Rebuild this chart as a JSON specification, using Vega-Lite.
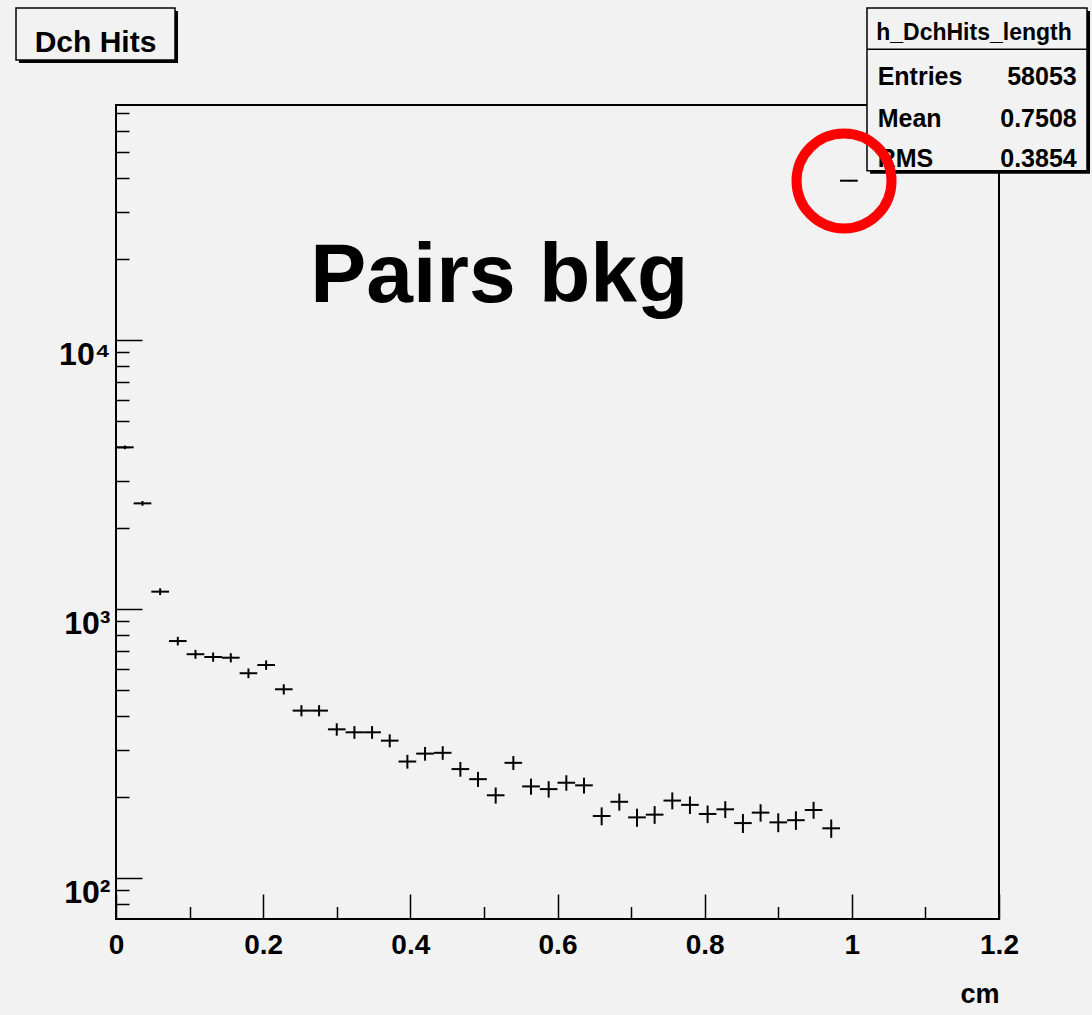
{
  "$schema": "https://vega.github.io/schema/vega-lite/v6.json",
  "width": 883,
  "height": 814,
  "autosize": {"type": "none"},
  "padding": {"left": 116, "top": 105, "right": 93, "bottom": 96},
  "background": "#f2f2f2",
  "config": {
    "view": {"fill": "#f2f2f2", "stroke": "#000000", "strokeWidth": 2},
    "font": "Liberation Sans, Arial, sans-serif"
  },
  "datasets": {
    "hist": [
      {"x0": 0.000, "x1": 0.024, "xc": 0.012, "n": 3990, "lo": 3927, "hi": 4053},
      {"x0": 0.024, "x1": 0.048, "xc": 0.036, "n": 2470, "lo": 2420, "hi": 2520},
      {"x0": 0.048, "x1": 0.072, "xc": 0.060, "n": 1160, "lo": 1126, "hi": 1194},
      {"x0": 0.072, "x1": 0.096, "xc": 0.084, "n": 760, "lo": 732, "hi": 788},
      {"x0": 0.096, "x1": 0.120, "xc": 0.108, "n": 679, "lo": 653, "hi": 705},
      {"x0": 0.120, "x1": 0.144, "xc": 0.132, "n": 663, "lo": 637, "hi": 689},
      {"x0": 0.144, "x1": 0.168, "xc": 0.156, "n": 659, "lo": 633, "hi": 685},
      {"x0": 0.168, "x1": 0.192, "xc": 0.180, "n": 577, "lo": 553, "hi": 601},
      {"x0": 0.192, "x1": 0.216, "xc": 0.204, "n": 619, "lo": 594, "hi": 644},
      {"x0": 0.216, "x1": 0.240, "xc": 0.228, "n": 503, "lo": 481, "hi": 525},
      {"x0": 0.240, "x1": 0.264, "xc": 0.252, "n": 419, "lo": 399, "hi": 439},
      {"x0": 0.264, "x1": 0.288, "xc": 0.276, "n": 419, "lo": 399, "hi": 439},
      {"x0": 0.288, "x1": 0.312, "xc": 0.300, "n": 357, "lo": 338, "hi": 376},
      {"x0": 0.312, "x1": 0.336, "xc": 0.324, "n": 348, "lo": 329, "hi": 367},
      {"x0": 0.336, "x1": 0.360, "xc": 0.348, "n": 348, "lo": 329, "hi": 367},
      {"x0": 0.360, "x1": 0.384, "xc": 0.372, "n": 324, "lo": 306, "hi": 342},
      {"x0": 0.384, "x1": 0.408, "xc": 0.396, "n": 271, "lo": 255, "hi": 287},
      {"x0": 0.408, "x1": 0.432, "xc": 0.420, "n": 290, "lo": 273, "hi": 307},
      {"x0": 0.432, "x1": 0.456, "xc": 0.444, "n": 292, "lo": 275, "hi": 309},
      {"x0": 0.456, "x1": 0.480, "xc": 0.468, "n": 254, "lo": 238, "hi": 270},
      {"x0": 0.480, "x1": 0.504, "xc": 0.492, "n": 233, "lo": 218, "hi": 248},
      {"x0": 0.504, "x1": 0.528, "xc": 0.516, "n": 203, "lo": 189, "hi": 217},
      {"x0": 0.528, "x1": 0.552, "xc": 0.540, "n": 268, "lo": 252, "hi": 284},
      {"x0": 0.552, "x1": 0.576, "xc": 0.564, "n": 219, "lo": 204, "hi": 234},
      {"x0": 0.576, "x1": 0.600, "xc": 0.588, "n": 214, "lo": 199, "hi": 229},
      {"x0": 0.600, "x1": 0.624, "xc": 0.612, "n": 226, "lo": 211, "hi": 241},
      {"x0": 0.624, "x1": 0.648, "xc": 0.636, "n": 221, "lo": 206, "hi": 236},
      {"x0": 0.648, "x1": 0.672, "xc": 0.660, "n": 170, "lo": 157, "hi": 183},
      {"x0": 0.672, "x1": 0.696, "xc": 0.684, "n": 192, "lo": 178, "hi": 206},
      {"x0": 0.696, "x1": 0.720, "xc": 0.708, "n": 168, "lo": 155, "hi": 181},
      {"x0": 0.720, "x1": 0.744, "xc": 0.732, "n": 172, "lo": 159, "hi": 185},
      {"x0": 0.744, "x1": 0.768, "xc": 0.756, "n": 194, "lo": 180, "hi": 208},
      {"x0": 0.768, "x1": 0.792, "xc": 0.780, "n": 187, "lo": 173, "hi": 201},
      {"x0": 0.792, "x1": 0.816, "xc": 0.804, "n": 173, "lo": 160, "hi": 186},
      {"x0": 0.816, "x1": 0.840, "xc": 0.828, "n": 180, "lo": 167, "hi": 193},
      {"x0": 0.840, "x1": 0.864, "xc": 0.852, "n": 160, "lo": 147, "hi": 173},
      {"x0": 0.864, "x1": 0.888, "xc": 0.876, "n": 175, "lo": 162, "hi": 188},
      {"x0": 0.888, "x1": 0.912, "xc": 0.900, "n": 161, "lo": 148, "hi": 174},
      {"x0": 0.912, "x1": 0.936, "xc": 0.924, "n": 164, "lo": 151, "hi": 177},
      {"x0": 0.936, "x1": 0.960, "xc": 0.948, "n": 179, "lo": 166, "hi": 192},
      {"x0": 0.960, "x1": 0.984, "xc": 0.972, "n": 153, "lo": 141, "hi": 165},
      {"x0": 0.984, "x1": 1.008, "xc": 0.996, "n": 39100, "lo": 38900, "hi": 39300}
    ],
    "boxes": [
      {"x": -0.1359, "x2": 0.0802, "y": 171500, "y2": 109900},
      {"x": 1.0206, "x2": 1.3196, "y": 171500, "y2": 42600}
    ],
    "divider": [{"x": 1.0206, "x2": 1.3196, "y": 120400}],
    "statLabels": [
      {"x": 1.0351, "y": 88720, "t": "Entries"},
      {"x": 1.0351, "y": 62070, "t": "Mean"},
      {"x": 1.0351, "y": 44080, "t": "RMS"}
    ],
    "statValues": [
      {"x": 1.3056, "y": 88720, "t": "58053"},
      {"x": 1.3056, "y": 62070, "t": "0.7508"},
      {"x": 1.3056, "y": 44080, "t": "0.3854"}
    ],
    "statTitle": [{"x": 1.166, "y": 130400, "t": "h_DchHits_length"}],
    "histTitle": [{"x": -0.0279, "y": 117950, "t": "Dch Hits"}],
    "note": [{"x": 0.5208, "y": 13880, "t": "Pairs bkg"}],
    "circle": [{"x": 0.9894, "y": 39000}]
  },
  "layer": [
    {
      "data": {"name": "hist"},
      "mark": {"type": "rule", "color": "#000000", "strokeWidth": 2},
      "encoding": {
        "x": {
          "field": "x0", "type": "quantitative",
          "scale": {"domain": [0, 1.2], "nice": false, "zero": false},
          "axis": {
            "title": "cm",
            "values": [0, 0.05, 0.1, 0.15, 0.2, 0.25, 0.3, 0.35, 0.4, 0.45, 0.5, 0.55, 0.6, 0.65, 0.7, 0.75, 0.8, 0.85, 0.9, 0.95, 1, 1.05, 1.1, 1.15, 1.2],
            "domain": false,
            "grid": false,
            "tickColor": "#000000",
            "tickWidth": 1.5,
            "tickSize": {"condition": {"test": "abs(datum.value*5 - round(datum.value*5)) < 0.001", "value": -25}, "value": -12.5},
            "labelExpr": "abs(datum.value*5 - round(datum.value*5)) < 0.001 ? format(datum.value, '~g') : ''",
            "labelFontWeight": "bold",
            "labelFontSize": 28,
            "labelColor": "#000000",
            "labelBaseline": "top",
            "labelPadding": 37,
            "labelFlush": false,
            "labelOverlap": false,
            "titleFontWeight": "bold",
            "titleFontSize": 27,
            "titleColor": "#000000",
            "titleAnchor": "end",
            "titleAlign": "right",
            "titleBaseline": "alphabetic",
            "titleX": 883,
            "titleY": 83
          }
        },
        "x2": {"field": "x1"},
        "y": {
          "field": "n", "type": "quantitative",
          "scale": {"type": "log", "domain": [70.4, 74740], "nice": false},
          "axis": {
            "title": null,
            "values": [80, 90, 100, 200, 300, 400, 500, 600, 700, 800, 900, 1000, 2000, 3000, 4000, 5000, 6000, 7000, 8000, 9000, 10000, 20000, 30000, 40000, 50000, 60000, 70000],
            "domain": false,
            "grid": false,
            "tickColor": "#000000",
            "tickWidth": 1.5,
            "tickSize": {"condition": {"test": "datum.value == 100 || datum.value == 1000 || datum.value == 10000", "value": -26}, "value": -13},
            "labelExpr": "datum.value == 100 ? '10²' : datum.value == 1000 ? '10³' : datum.value == 10000 ? '10⁴' : ''",
            "labelFontWeight": "bold",
            "labelFontSize": 32,
            "labelColor": "#000000",
            "labelBaseline": "top",
            "labelPadding": 32,
            "labelFlush": false,
            "labelOverlap": false
          }
        }
      }
    },
    {
      "data": {"name": "hist"},
      "mark": {"type": "rule", "color": "#000000", "strokeWidth": 2},
      "encoding": {
        "x": {"field": "xc", "type": "quantitative"},
        "y": {"field": "lo", "type": "quantitative"},
        "y2": {"field": "hi"}
      }
    },
    {
      "data": {"name": "note"},
      "mark": {"type": "text", "fontWeight": "bold", "fontSize": 84, "align": "center", "baseline": "alphabetic", "color": "#000000"},
      "encoding": {
        "x": {"field": "x", "type": "quantitative"},
        "y": {"field": "y", "type": "quantitative"},
        "text": {"field": "t"}
      }
    },
    {
      "data": {"name": "boxes"},
      "mark": {"type": "rect", "fill": "#000000", "xOffset": 3, "x2Offset": 3, "yOffset": 3, "y2Offset": 3},
      "encoding": {
        "x": {"field": "x", "type": "quantitative"},
        "x2": {"field": "x2"},
        "y": {"field": "y", "type": "quantitative"},
        "y2": {"field": "y2"}
      }
    },
    {
      "data": {"name": "boxes"},
      "mark": {"type": "rect", "fill": "#f2f2f2", "stroke": "#000000", "strokeWidth": 1.5},
      "encoding": {
        "x": {"field": "x", "type": "quantitative"},
        "x2": {"field": "x2"},
        "y": {"field": "y", "type": "quantitative"},
        "y2": {"field": "y2"}
      }
    },
    {
      "data": {"name": "divider"},
      "mark": {"type": "rule", "color": "#000000", "strokeWidth": 1.5},
      "encoding": {
        "x": {"field": "x", "type": "quantitative"},
        "x2": {"field": "x2"},
        "y": {"field": "y", "type": "quantitative"}
      }
    },
    {
      "data": {"name": "histTitle"},
      "mark": {"type": "text", "fontWeight": "bold", "fontSize": 30, "align": "center", "baseline": "alphabetic", "color": "#000000"},
      "encoding": {
        "x": {"field": "x", "type": "quantitative"},
        "y": {"field": "y", "type": "quantitative"},
        "text": {"field": "t"}
      }
    },
    {
      "data": {"name": "statTitle"},
      "mark": {"type": "text", "fontWeight": "bold", "fontSize": 23, "align": "center", "baseline": "alphabetic", "color": "#000000"},
      "encoding": {
        "x": {"field": "x", "type": "quantitative"},
        "y": {"field": "y", "type": "quantitative"},
        "text": {"field": "t"}
      }
    },
    {
      "data": {"name": "statLabels"},
      "mark": {"type": "text", "fontWeight": "bold", "fontSize": 25, "align": "left", "baseline": "alphabetic", "color": "#000000"},
      "encoding": {
        "x": {"field": "x", "type": "quantitative"},
        "y": {"field": "y", "type": "quantitative"},
        "text": {"field": "t"}
      }
    },
    {
      "data": {"name": "statValues"},
      "mark": {"type": "text", "fontWeight": "bold", "fontSize": 25, "align": "right", "baseline": "alphabetic", "color": "#000000"},
      "encoding": {
        "x": {"field": "x", "type": "quantitative"},
        "y": {"field": "y", "type": "quantitative"},
        "text": {"field": "t"}
      }
    },
    {
      "data": {"name": "circle"},
      "mark": {"type": "point", "shape": "circle", "size": 9025, "filled": false, "stroke": "#ff0000", "strokeWidth": 10, "opacity": 1},
      "encoding": {
        "x": {"field": "x", "type": "quantitative"},
        "y": {"field": "y", "type": "quantitative"}
      }
    }
  ]
}
